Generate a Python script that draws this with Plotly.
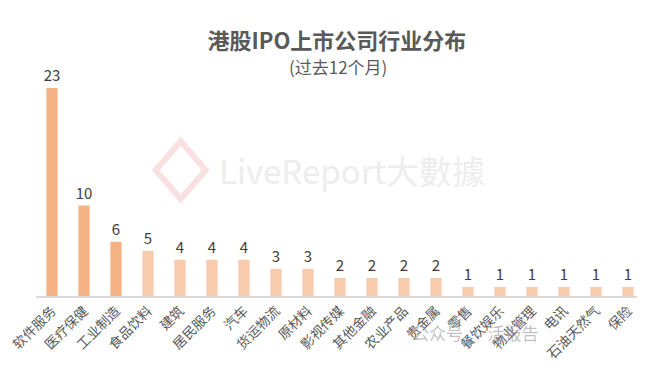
import plotly.graph_objects as go

categories = ["软件服务", "医疗保健", "工业制造", "食品饮料", "建筑", "居民服务", "汽车", "货运物流",
              "原材料", "影视传媒", "其他金融", "农业产品", "贵金属", "零售", "餐饮娱乐", "物业管理",
              "电讯", "石油天然气", "保险"]
values = [23, 10, 6, 5, 4, 4, 4, 3, 3, 2, 2, 2, 2, 1, 1, 1, 1, 1, 1]
highlight_count = 3

colors = ["#F4B183" if i < highlight_count else "#F8CBAD" for i in range(len(values))]
FONT = "Noto Sans CJK SC, Microsoft YaHei, sans-serif"

fig = go.Figure()
fig.add_trace(go.Bar(
    x=categories, y=values, marker_color=colors, marker_line_width=0,
    text=values, textposition="outside", cliponaxis=False, constraintext="none",
    textfont=dict(size=15, color="#404040", family=FONT),
))

fig.update_layout(
    width=645, height=374,
    margin=dict(l=28, r=9, t=62, b=86),
    paper_bgcolor="white", plot_bgcolor="white",
    bargap=0.65, showlegend=False,
    font=dict(family=FONT),
    title=dict(
        text="<b>港股IPO上市公司行业分布</b>",
        x=0.51, xanchor="center", y=0.912, yanchor="middle",
        font=dict(size=22, color="#595959", family=FONT),
    ),
    xaxis=dict(
        tickangle=-45, tickfont=dict(size=13.5, color="#595959", family=FONT),
        showline=True, linecolor="#D9D9D9", linewidth=1.5, ticks="", showgrid=False,
        automargin=False,
    ),
    yaxis=dict(range=[0, 25], visible=False, showgrid=False, automargin=False),
)

fig.add_annotation(text="(过去12个月)", xref="paper", yref="paper", x=0.497, y=1.0,
                   yshift=4, yanchor="middle", showarrow=False,
                   font=dict(size=17, color="#595959", family=FONT))
fig.add_annotation(text="LiveReport大數據", xref="paper", yref="paper", x=0.52, y=0.557,
                   showarrow=False, font=dict(size=33, color="#EDEDED", family=FONT))
fig.add_shape(type="path", xref="paper", yref="paper",
              path="M 0.238 0.685 L 0.279 0.557 L 0.238 0.429 L 0.197 0.557 Z",
              line=dict(color="rgba(240,170,170,0.35)", width=6), fillcolor="rgba(0,0,0,0)")
fig.add_annotation(text="公众号 · 活报告", xref="paper", yref="paper", x=0.83, y=-0.226,
                   showarrow=False, font=dict(size=17, color="rgba(150,150,150,0.6)", family=FONT))

fig.write_html("out.html")
